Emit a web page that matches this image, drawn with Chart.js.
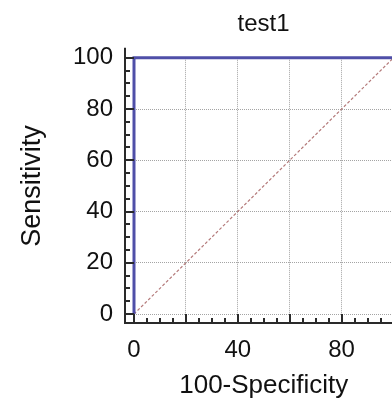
<!DOCTYPE html>
<html>
<head>
<meta charset="utf-8">
<script src="https://cdn.jsdelivr.net/npm/chart.js@4"></script>
<style>
  html, body { margin: 0; padding: 0; background: #fff; overflow: hidden; }
  canvas { display: block; }
</style>
</head>
<body>
<canvas id="roc" width="527" height="399"></canvas>
<script>
// ROC curve for test1 (perfect classifier) and the chance diagonal
const rocX = [0, 0, 100];
const rocY = [0, 100, 100];
const refX = [0, 100];
const refY = [0, 100];

const yTickValues = [0, 20, 40, 60, 80, 100];
const xLabelValues = [0, 40, 80];
const majorStep = 20;
const minorStep = 5;

const FONT = "'Liberation Sans', Arial, sans-serif";
Chart.defaults.font.family = FONT;

// MedCalc style axes: drawn a few px away from the plot, ticks point inward
const offsetAxes = {
    id: 'offsetAxes',
    afterDraw(chart) {
        const {ctx, chartArea: a, scales: {x, y}} = chart;
        const gap = 9;
        const ax = a.left - gap;
        const ay = a.bottom + gap;
        ctx.save();
        ctx.strokeStyle = '#2a2a2a';
        ctx.lineWidth = 2;
        ctx.beginPath();
        ctx.moveTo(ax, a.top - 10);
        ctx.lineTo(ax, ay);
        ctx.moveTo(ax - 1, ay);
        ctx.lineTo(a.right + 10, ay);
        for (let v = y.min; v <= y.max; v += minorStep) {
            const p = Math.round(y.getPixelForValue(v));
            const len = v % majorStep === 0 ? gap : 5;
            ctx.moveTo(ax, p);
            ctx.lineTo(ax + len, p);
        }
        for (let v = x.min; v <= x.max; v += minorStep) {
            const p = Math.round(x.getPixelForValue(v));
            const len = v % majorStep === 0 ? gap : 5;
            ctx.moveTo(p, ay);
            ctx.lineTo(p, ay - len);
        }
        ctx.stroke();
        ctx.restore();
    }
};

new Chart(document.getElementById('roc'), {
    type: 'line',
    data: {
        datasets: [{
            data: rocX.map((v, i) => ({x: v, y: rocY[i]})),
            borderColor: '#4f4fa8',
            borderWidth: 3,
            pointRadius: 0,
            tension: 0,
            clip: 4
        }, {
            data: refX.map((v, i) => ({x: v, y: refY[i]})),
            borderColor: '#b47a7a',
            borderWidth: 1.2,
            borderDash: [3, 2],
            pointRadius: 0,
            tension: 0
        }]
    },
    options: {
        responsive: false,
        animation: false,
        layout: { padding: 0 },
        plugins: {
            legend: { display: false },
            tooltip: { enabled: false },
            title: {
                display: true,
                text: 'test1',
                color: '#111',
                font: { size: 24, weight: 'normal' },
                padding: { top: 10, bottom: 19 }
            }
        },
        scales: {
            x: {
                type: 'linear',
                min: 0,
                max: 100,
                afterFit: s => { s.height = 85; },
                ticks: {
                    stepSize: majorStep,
                    autoSkip: false,
                    maxRotation: 0,
                    padding: 22,
                    color: '#111',
                    font: { size: 24 },
                    callback: v => xLabelValues.includes(v) ? String(v) : ''
                },
                grid: { color: '#a4a4a4', lineWidth: 1, drawTicks: false },
                border: { display: false, dash: [1, 1] },
                title: {
                    display: true,
                    text: '100-Specificity',
                    color: '#111',
                    font: { size: 26, lineHeight: 1 },
                    padding: { top: 0, bottom: 0 }
                }
            },
            y: {
                type: 'linear',
                min: 0,
                max: 100,
                afterFit: s => { s.width = 134; },
                afterBuildTicks: s => { s.ticks = yTickValues.map(v => ({value: v})); },
                ticks: {
                    padding: 21,
                    color: '#111',
                    font: { size: 24 }
                },
                grid: { color: '#a4a4a4', lineWidth: 1, drawTicks: false },
                border: { display: false, dash: [1, 1] },
                title: {
                    display: true,
                    text: 'Sensitivity',
                    color: '#111',
                    font: { size: 27, lineHeight: 1 },
                    padding: { top: 19, bottom: 0 }
                }
            },
            // empty right-hand scale that only reserves room, so the title centres on the plot
            spacer: {
                type: 'linear',
                position: 'right',
                display: true,
                afterFit: s => { s.width = 133.5; },
                ticks: { display: false },
                grid: { display: false, drawTicks: false },
                border: { display: false }
            }
        }
    },
    plugins: [offsetAxes]
});
</script>
</body>
</html>
